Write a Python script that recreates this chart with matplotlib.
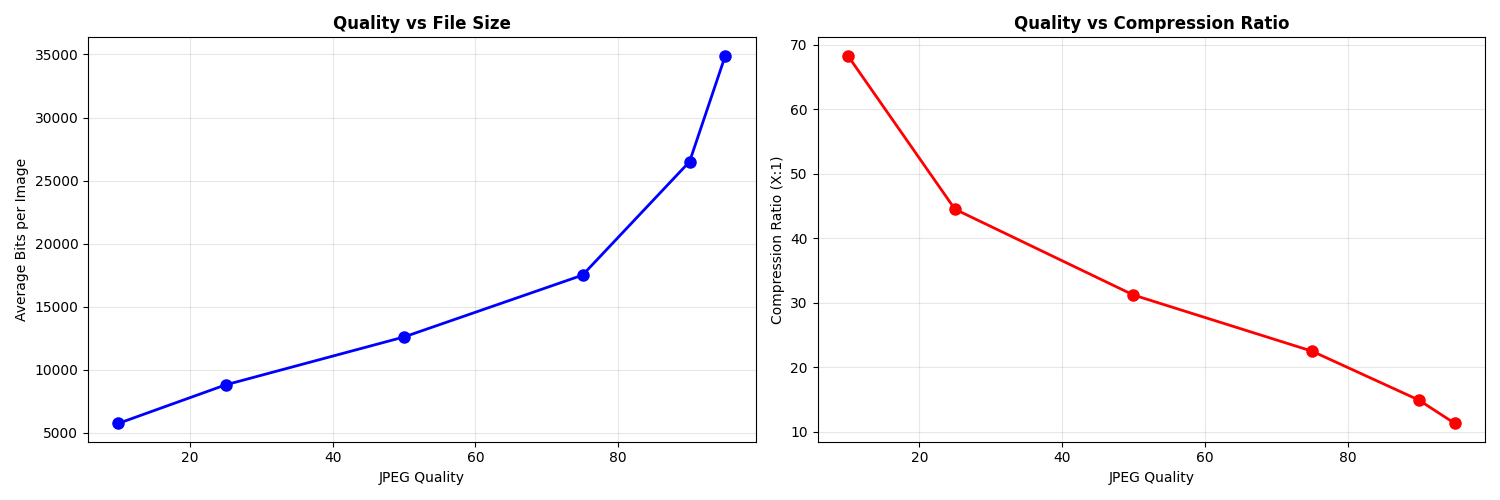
import matplotlib
matplotlib.use('Agg')
import matplotlib.pyplot as plt

quality = [10, 25, 50, 75, 90, 95]
avg_bits = [5750, 8800, 12600, 17500, 26500, 34900]
compression_ratio = [68.3, 44.5, 31.2, 22.5, 14.9, 11.3]

fig, (ax1, ax2) = plt.subplots(1, 2, figsize=(15, 5))

ax1.plot(quality, avg_bits, 'bo-', linewidth=2, markersize=8)
ax1.set_xlabel('JPEG Quality')
ax1.set_ylabel('Average Bits per Image')
ax1.set_title('Quality vs File Size', fontweight='bold')
ax1.grid(True, alpha=0.3)

ax2.plot(quality, compression_ratio, 'ro-', linewidth=2, markersize=8)
ax2.set_xlabel('JPEG Quality')
ax2.set_ylabel('Compression Ratio (X:1)')
ax2.set_title('Quality vs Compression Ratio', fontweight='bold')
ax2.grid(True, alpha=0.3)

plt.tight_layout()
plt.savefig('out.png', dpi=100)
